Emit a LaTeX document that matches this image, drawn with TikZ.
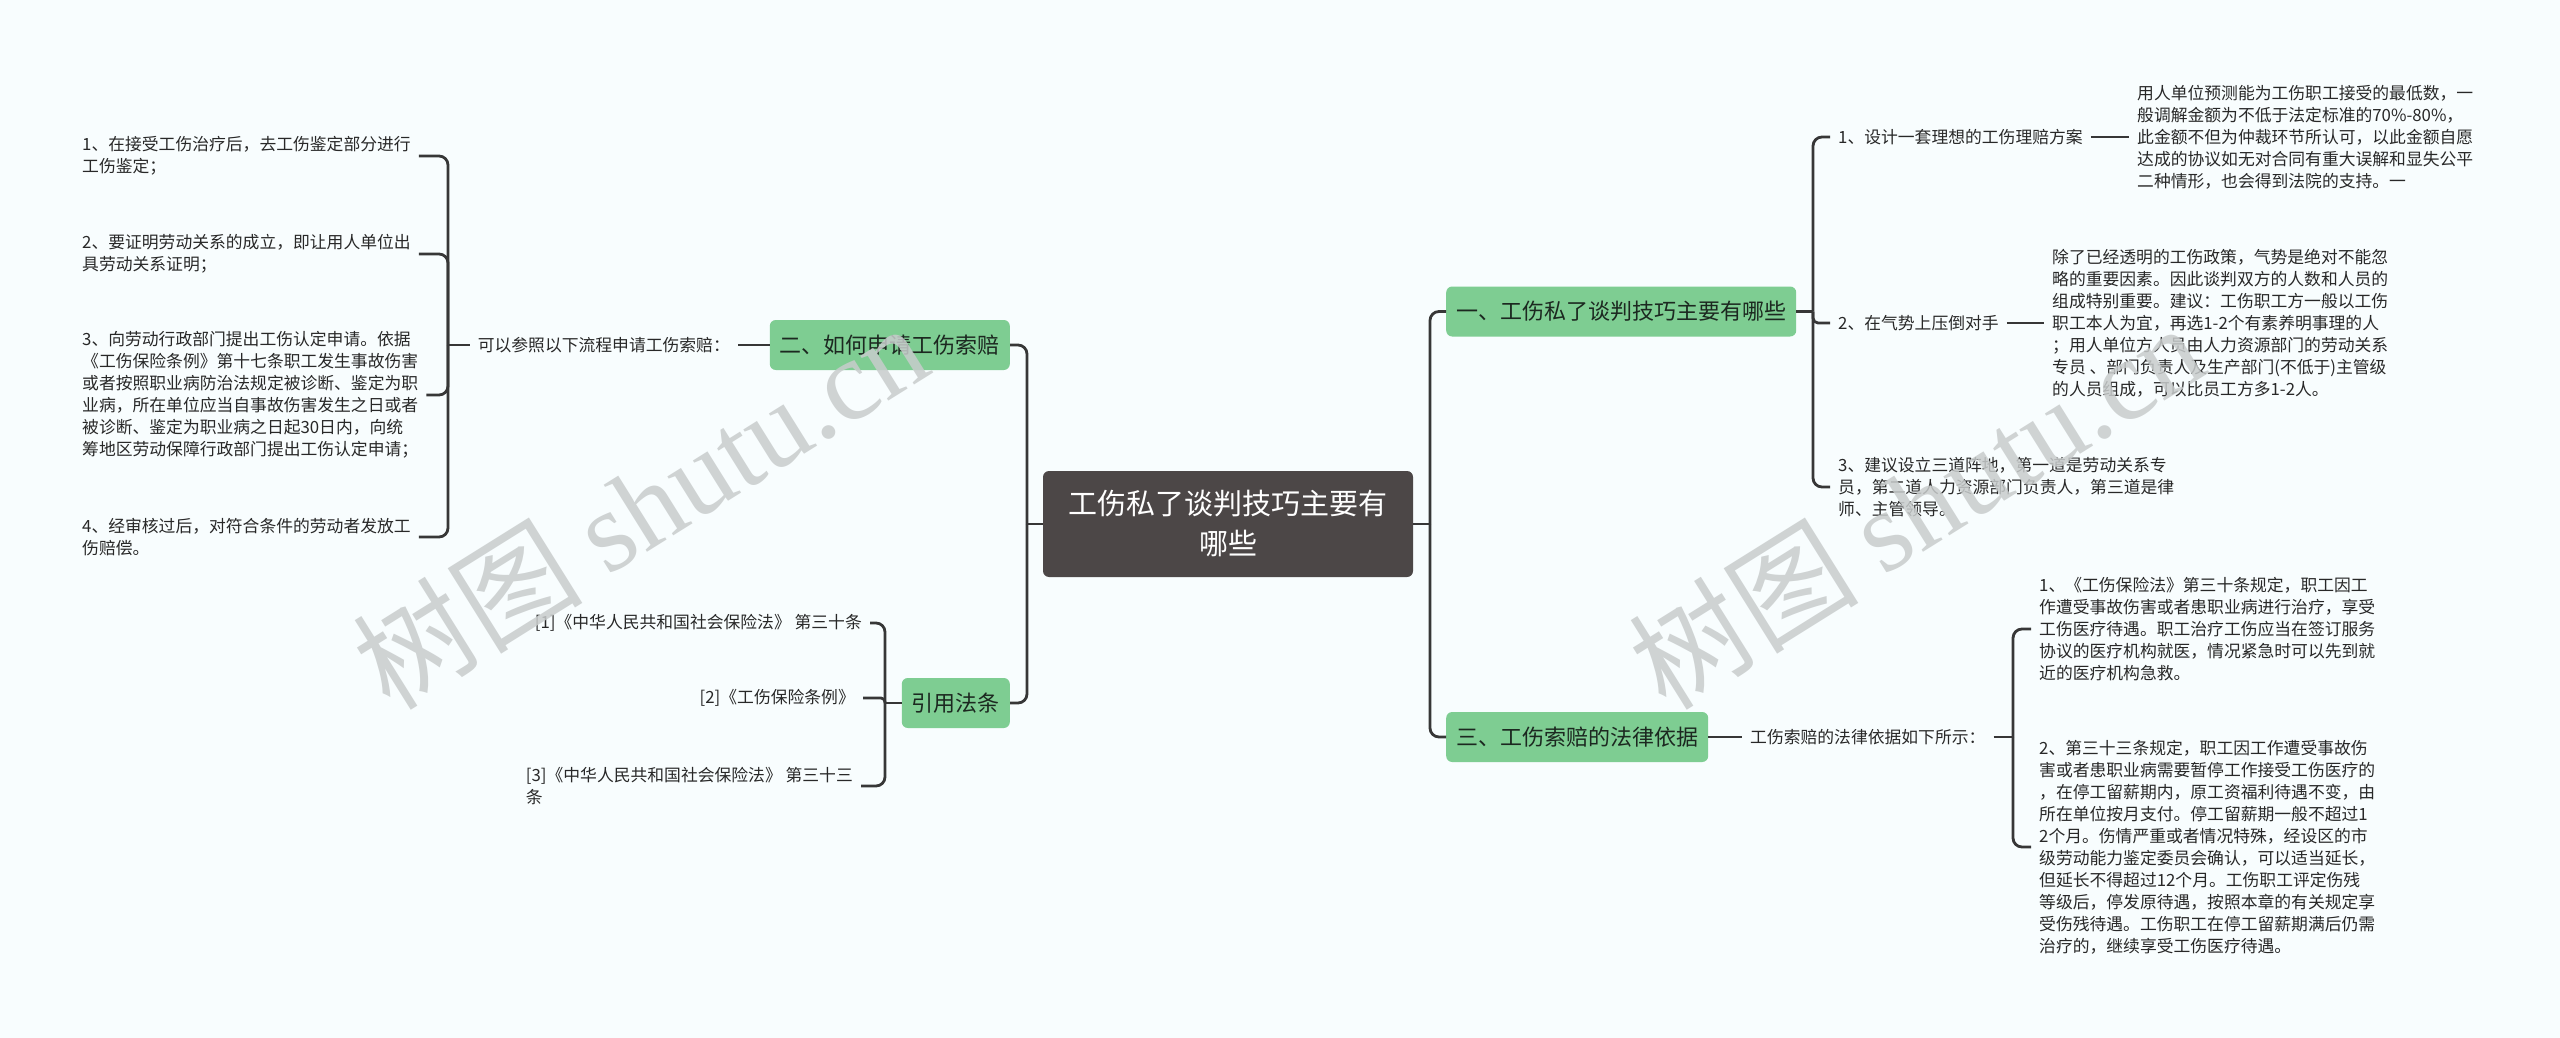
\documentclass[tikz,border=0pt]{standalone}
\usepackage{fontspec}
\setmainfont{Noto Sans CJK SC}
\newfontfamily\wmlatin{Liberation Serif}
\definecolor{bgc}{RGB}{248,253,254}
\definecolor{linec}{RGB}{55,55,55}
\definecolor{leafc}{RGB}{40,40,40}
\definecolor{greenc}{RGB}{126,205,146}
\definecolor{greent}{RGB}{28,40,32}
\definecolor{rootc}{RGB}{76,71,71}
\definecolor{wmc}{RGB}{200,204,204}
\begin{document}
\begin{tikzpicture}[x=1pt,y=-1pt,
  leaf/.style={font=\fontsize{16.8}{22}\selectfont, text=leafc, align=left, inner xsep=8pt, inner ysep=0pt},
  branch/.style={fill=greenc, rounded corners=6pt, font=\fontsize{22}{26}\selectfont, text=greent, inner xsep=10pt, minimum height=50pt},
  root/.style={fill=rootc, rounded corners=6pt, font=\fontsize{29}{40}\selectfont, text=white, align=center, minimum width=370pt, minimum height=106pt},
  conn/.style={draw=linec, line width=2.8pt, rounded corners=9pt},
  wm/.style={text=wmc, opacity=0.85, rotate=32, font=\fontsize{115}{120}\selectfont}
]
\fill[bgc] (0,0) rectangle (2560,1038);
\useasboundingbox (0,0) rectangle (2560,1038);

% root and branches
\node[root] (root) at (1228,524) {工伤私了谈判技巧主要有\\哪些};
\node[branch, anchor=west] (b1) at (1446,311.5) {一、工伤私了谈判技巧主要有哪些};
\node[branch, anchor=west] (b3) at (1446,737) {三、工伤索赔的法律依据};
\node[branch, anchor=east] (b2) at (1010,345) {二、如何申请工伤索赔};
\node[branch, anchor=east] (b4) at (1010,703) {引用法条};

% right leaves of branch 1
\node[leaf, anchor=west] (r1) at (1830,137) {1、设计一套理想的工伤理赔方案};
\node[leaf, anchor=west] (r1t) at (2129,137) {用人单位预测能为工伤职工接受的最低数，一\\般调解金额为不低于法定标准的70\%-80\%，\\此金额不但为仲裁环节所认可，以此金额自愿\\达成的协议如无对合同有重大误解和显失公平\\二种情形，也会得到法院的支持。一};
\node[leaf, anchor=west] (r2) at (1830,323) {2、在气势上压倒对手};
\node[leaf, anchor=west] (r2t) at (2044,323) {除了已经透明的工伤政策，气势是绝对不能忽\\略的重要因素。因此谈判双方的人数和人员的\\组成特别重要。建议：工伤职工方一般以工伤\\职工本人为宜，再选1-2个有素养明事理的人\\；用人单位方人员由人力资源部门的劳动关系\\专员 、部门负责人及生产部门(不低于)主管级\\的人员组成，可以比员工方多1-2人。};
\node[leaf, anchor=west] (r3) at (1830,487) {3、建议设立三道阵地，第一道是劳动关系专\\员，第二道人力资源部门负责人，第三道是律\\师、主管领导。};

% branch 3 leaves
\node[leaf, anchor=west] (lb) at (1742,737) {工伤索赔的法律依据如下所示：};
\node[leaf, anchor=west] (t1) at (2031,629) {1、《工伤保险法》第三十条规定，职工因工\\作遭受事故伤害或者患职业病进行治疗，享受\\工伤医疗待遇。职工治疗工伤应当在签订服务\\协议的医疗机构就医，情况紧急时可以先到就\\近的医疗机构急救。};
\node[leaf, anchor=west] (t2) at (2031,847) {2、第三十三条规定，职工因工作遭受事故伤\\害或者患职业病需要暂停工作接受工伤医疗的\\，在停工留薪期内，原工资福利待遇不变，由\\所在单位按月支付。停工留薪期一般不超过1\\2个月。伤情严重或者情况特殊，经设区的市\\级劳动能力鉴定委员会确认，可以适当延长，\\但延长不得超过12个月。工伤职工评定伤残\\等级后，停发原待遇，按照本章的有关规定享\\受伤残待遇。工伤职工在停工留薪期满后仍需\\治疗的，继续享受工伤医疗待遇。};

% branch 2 leaves
\node[leaf, anchor=east] (l0) at (738,345) {可以参照以下流程申请工伤索赔：};
\node[leaf, anchor=west] (l1) at (74,156) {1、在接受工伤治疗后，去工伤鉴定部分进行\\工伤鉴定；};
\node[leaf, anchor=west] (l2) at (74,254) {2、要证明劳动关系的成立，即让用人单位出\\具劳动关系证明；};
\node[leaf, anchor=west] (l3) at (74,395) {3、向劳动行政部门提出工伤认定申请。依据\\《工伤保险条例》第十七条职工发生事故伤害\\或者按照职业病防治法规定被诊断、鉴定为职\\业病，所在单位应当自事故伤害发生之日或者\\被诊断、鉴定为职业病之日起30日内，向统\\筹地区劳动保障行政部门提出工伤认定申请；};
\node[leaf, anchor=west] (l4) at (74,537) {4、经审核过后，对符合条件的劳动者发放工\\伤赔偿。};

% citations
\node[leaf, anchor=east] (c1) at (870,623) {[1]《中华人民共和国社会保险法》 第三十条};
\node[leaf, anchor=east] (c2) at (863,698) {[2]《工伤保险条例》};
\node[leaf, anchor=east] (c3) at (861,786) {[3]《中华人民共和国社会保险法》 第三十三\\条};

% junctions
\coordinate (jr) at (1430,524);
\coordinate (jl) at (1027,524);
\coordinate (j1) at (1813,311.5);
\coordinate (j3) at (2013,737);
\coordinate (j2) at (448,345);
\coordinate (j4) at (885,703);

% connectors
\draw[conn] (root.east) -- (jr);
\draw[conn] (jr) |- (b1.west);
\draw[conn] (jr) |- (b3.west);
\draw[conn] (root.west) -- (jl);
\draw[conn] (jl) |- (b2.east);
\draw[conn] (jl) |- (b4.east);

\draw[conn] (b1.east) -- (j1);
\draw[conn] (j1) |- (r1.west);
\draw[conn, rounded corners=5pt] (j1) |- (r2.west);
\draw[conn] (j1) |- (r3.west);
\draw[conn] (r1.east) -- (r1t.west);
\draw[conn] (r2.east) -- (r2t.west);

\draw[conn] (b3.east) -- (lb.west);
\draw[conn] (lb.east) -- (j3);
\draw[conn] (j3) |- (t1.west);
\draw[conn] (j3) |- (t2.west);

\draw[conn] (b2.west) -- (l0.east);
\draw[conn] (l0.west) -- (j2);
\draw[conn] (j2) |- (l1.east);
\draw[conn] (j2) |- (l2.east);
\draw[conn] (j2) |- (l3.east);
\draw[conn] (j2) |- (l4.east);

\draw[conn] (b4.west) -- (j4);
\draw[conn] (j4) |- (c1.east);
\draw[conn, rounded corners=4pt] (j4) |- (c2.east);
\draw[conn] (j4) |- (c3.east);

% watermarks
\node[wm] (wm1) at (640,505) {树图 {\wmlatin shutu.cn}};
\node[wm] (wm2) at (1916,505) {树图 {\wmlatin shutu.cn}};
\end{tikzpicture}
\end{document}
